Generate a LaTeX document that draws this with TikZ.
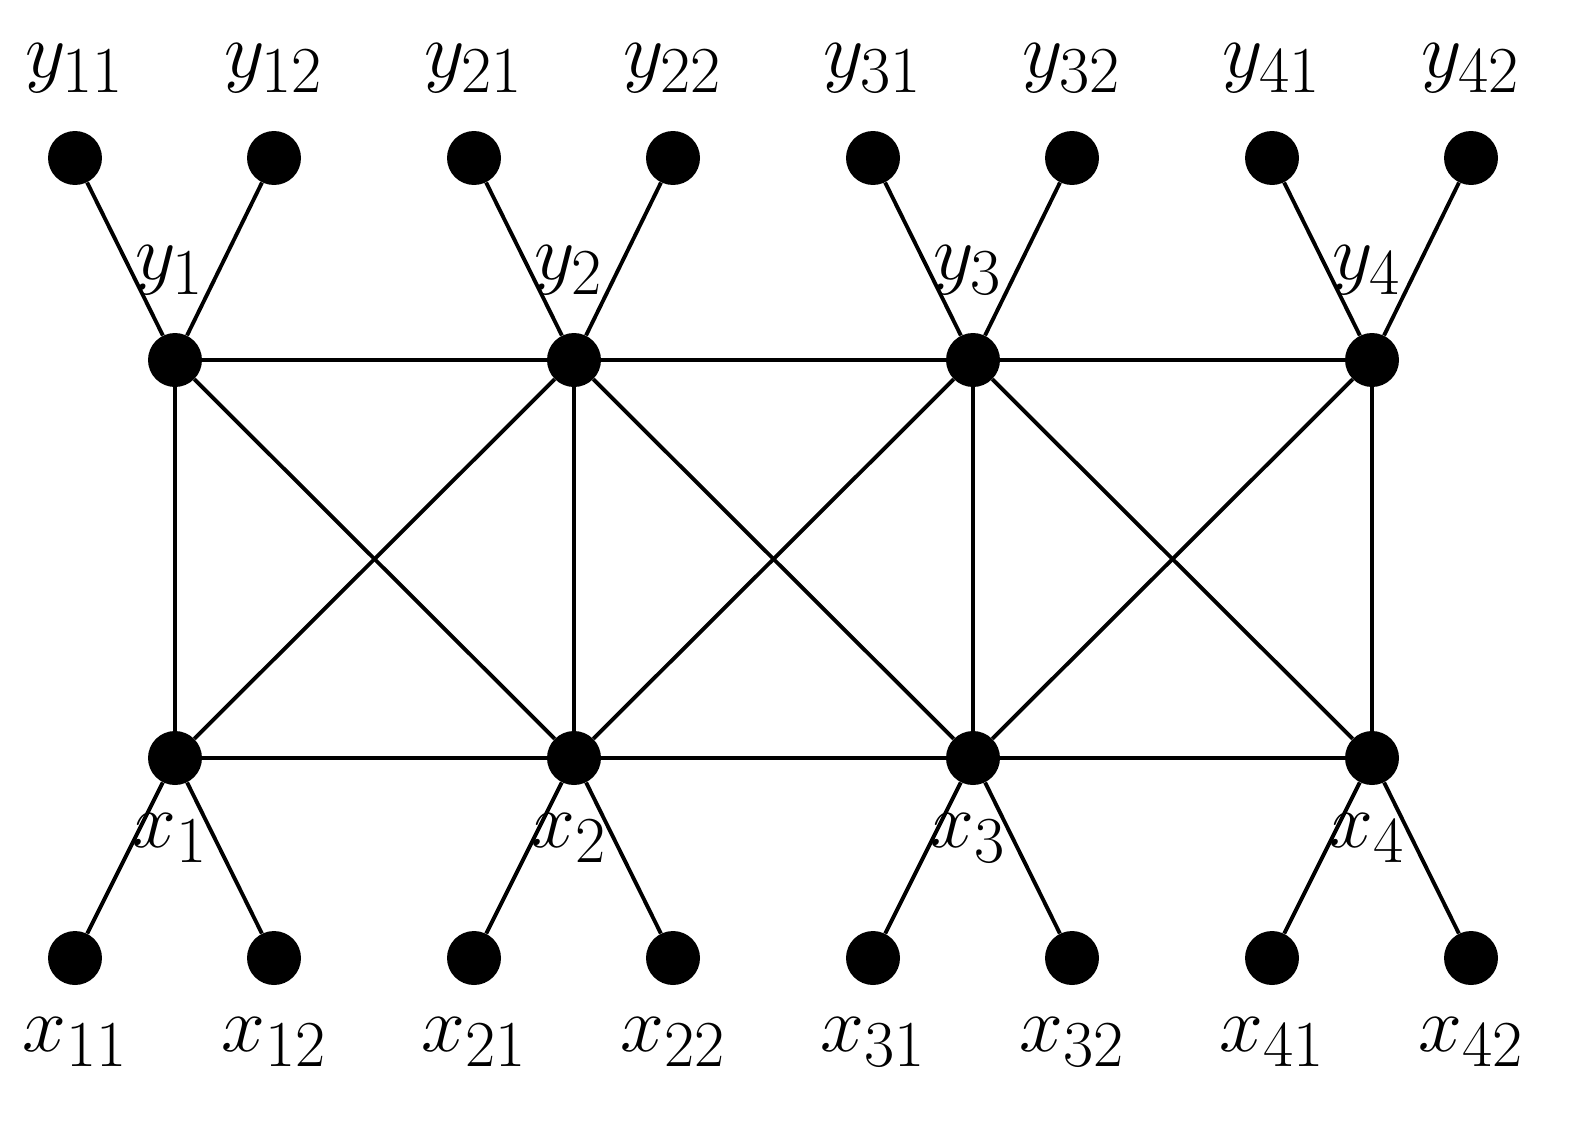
\documentclass[tikz,border=0pt]{standalone}
\begin{document}
\begin{tikzpicture}[x=0.02cm,y=-0.02cm,
  dot/.style={circle,fill=black,inner sep=0pt,minimum size=1.08cm},
  lab/.style={font=\Huge,scale=1.8},
  edge/.style={line width=2.2pt}]
\useasboundingbox (0,0) rectangle (1577,1126);
\foreach \i/\x in {1/175,2/574,3/973,4/1372}{
  \node[dot] (y\i) at (\x,360) {};
  \node[dot] (x\i) at (\x,758) {};
  \node[lab] at (\x-5,270) {$y_{\i}$};
  \node[lab] at (\x-5,838) {$x_{\i}$};
  \node[dot] (y\i1) at (\x-100,158) {};
  \node[dot] (y\i2) at (\x+99,158) {};
  \node[dot] (x\i1) at (\x-100,958) {};
  \node[dot] (x\i2) at (\x+99,958) {};
  \node[lab] at (\x-100,68) {$y_{\i1}$};
  \node[lab] at (\x+99,68) {$y_{\i2}$};
  \node[lab] at (\x-100,1042) {$x_{\i1}$};
  \node[lab] at (\x+99,1042) {$x_{\i2}$};
  \draw[edge] (y\i1)--(y\i)--(y\i2);
  \draw[edge] (x\i1)--(x\i)--(x\i2);
  \draw[edge] (y\i)--(x\i);
}
\foreach \a/\b in {1/2,2/3,3/4}{
  \draw[edge] (y\a)--(y\b);
  \draw[edge] (x\a)--(x\b);
  \draw[edge] (y\a)--(x\b);
  \draw[edge] (x\a)--(y\b);
}
\end{tikzpicture}
\end{document}
